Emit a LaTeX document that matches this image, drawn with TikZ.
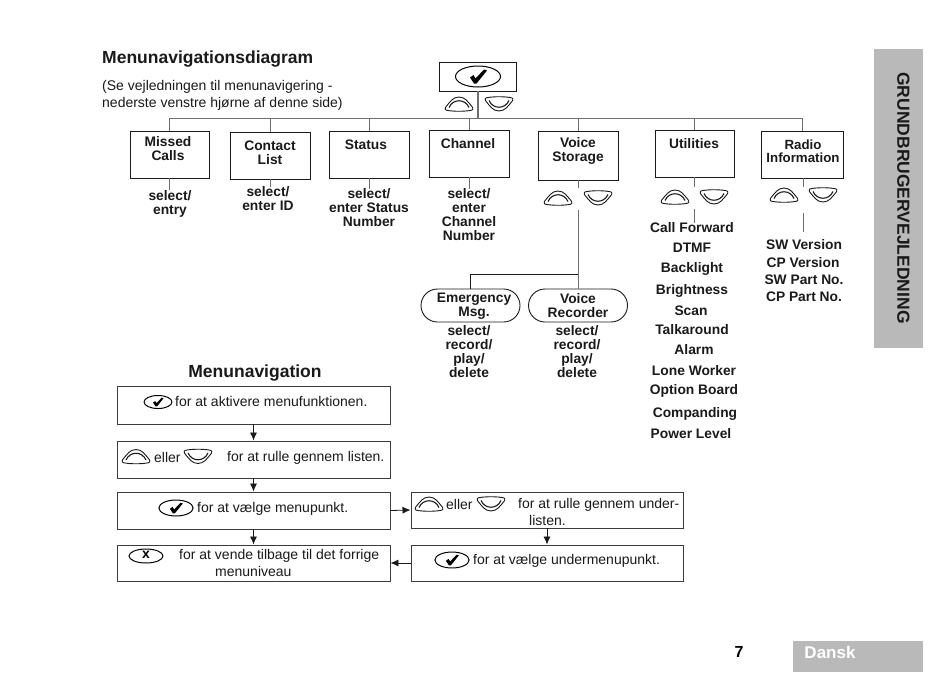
\documentclass[tikz,border=0pt]{standalone}
\usepackage{fontspec}
\setmainfont{Liberation Sans}
\usetikzlibrary{arrows.meta}
\definecolor{tabgray}{HTML}{B9B9B9}
\definecolor{inkc}{HTML}{1A1A1A}
\definecolor{stemc}{HTML}{6E6E6E}
\tikzset{
  x=1pt,y=-1pt,
  menubox/.style={draw=inkc,line width=0.9pt,fill=white,rectangle,inner sep=0pt},
  flowbox/.style={draw=inkc!85,line width=0.95pt,fill=white,rectangle,inner sep=0pt},
  pillbox/.style={draw=inkc,line width=0.9pt,rectangle,rounded corners=16.5pt,inner sep=0pt,minimum width=99pt,minimum height=33pt},
  lbl/.style={font=\bfseries\fontsize{13.8}{14}\selectfont,align=center,text=inkc,inner sep=0pt,yshift=-0.8pt},
  lblsmall/.style={font=\bfseries\fontsize{13.3}{13}\selectfont,align=center,text=inkc,inner sep=0pt,yshift=-0.8pt},
  title/.style={font=\bfseries\fontsize{17.5}{20}\selectfont,text=inkc,inner sep=0pt,yshift=-2.5pt},
  body/.style={font=\fontsize{14}{14.5}\selectfont,text=inkc,inner sep=0pt},
  flowtxt/.style={font=\fontsize{14}{14}\selectfont,text=inkc,inner sep=0pt,align=center,yshift=-0.8pt},
  stem/.style={draw=stemc,line width=0.8pt},
  darkstem/.style={draw=inkc,line width=0.9pt},
  flowarrow/.style={draw=inkc,line width=0.8pt,-{Latex[length=8pt,width=7pt]}},
  upkey/.pic={
    \draw[inkc,line width=0.9pt,line join=round] (-11,6.5) .. controls (-14.5,6.5) and (-14.5,4) .. (-12.5,2) .. controls (-9,-2) and (-6,-7) .. (0,-7) .. controls (6,-7) and (9,-2) .. (12.5,2) .. controls (14.5,4) and (14.5,6.5) .. (11,6.5) .. controls (5,7.5) and (-5,7.5) .. cycle;
    \draw[inkc,line width=1.1pt] (-10,3.5) .. controls (-6,-5.5) and (6,-5.5) .. (10,3.5);
  },
  downkey/.pic={
    \begin{scope}[yscale=-1]
    \draw[inkc,line width=0.9pt,line join=round] (-11,6.5) .. controls (-14.5,6.5) and (-14.5,4) .. (-12.5,2) .. controls (-9,-2) and (-6,-7) .. (0,-7) .. controls (6,-7) and (9,-2) .. (12.5,2) .. controls (14.5,4) and (14.5,6.5) .. (11,6.5) .. controls (5,7.5) and (-5,7.5) .. cycle;
    \draw[inkc,line width=1.1pt] (-10,3.5) .. controls (-6,-5.5) and (6,-5.5) .. (10,3.5);
    \end{scope}
  },
  okkey/.pic={
    \draw[black,line width=1pt] (0,0) ellipse [x radius=22.5,y radius=10.5];
    \fill[black] (-8,1) -- (-4.5,-1.5) -- (-2.5,2) -- (6,-7) -- (9,-6) -- (-1.5,7) -- (-4,7) -- cycle;
  },
}
\begin{document}
\begin{tikzpicture}
\useasboundingbox (0,0) rectangle (950,672);
\fill[white] (0,0) rectangle (950,672);

% side tabs
\fill[tabgray] (874,49) rectangle (923,348);
\node[rotate=-90,text=inkc,inner sep=0pt,font=\bfseries\fontsize{17.5}{18}\selectfont] (sidetxt) at (903.5,198) {GRUNDBRUGERVEJLEDNING};
\fill[tabgray] (793,641) rectangle (923,672);
\node[text=white,inner sep=0pt,font=\bfseries\fontsize{17}{18}\selectfont] (dansk) at (830,652) {Dansk};
\node[text=black,inner sep=0pt,font=\bfseries\fontsize{16}{18}\selectfont] (pageno) at (739,652) {7};

% titles
\node[title,anchor=west] (maintitle) at (102,57) {Menunavigationsdiagram};
\node[body,anchor=west] (sub1) at (102,87) {(Se vejledningen til menunavigering -};
\node[body,anchor=west] (sub2) at (102,103.5) {nederste venstre hjørne af denne side)};
\node[title] (flowtitle) at (255,371) {Menunavigation};

% top of the menu tree
\node[menubox,minimum width=77pt,minimum height=29pt] (top) at (478,76.5) {};
\pic at (478,76.5) {okkey};
\pic at (459,104) {upkey};
\pic at (499,104) {downkey};
\coordinate (busl) at (170,118);
\coordinate (busr) at (803,118);
\coordinate (busm) at (478,118);
\draw[stem] (busl) -- (busr);
\draw[stem,line width=1.2pt] (top.south) -- (busm);

% menu boxes
\node[menubox,minimum width=79pt,minimum height=47pt] (missed) at (169.5,154.5) {};
\node[menubox,minimum width=80pt,minimum height=47pt] (contact) at (270,155.5) {};
\node[menubox,minimum width=80pt,minimum height=47pt] (status) at (369,154.5) {};
\node[menubox,minimum width=80pt,minimum height=47pt] (channel) at (469,153.5) {};
\node[menubox,minimum width=80pt,minimum height=49pt] (voice) at (578,155.5) {};
\node[menubox,minimum width=79pt,minimum height=47pt] (util) at (694.5,153.5) {};
\node[menubox,minimum width=82pt,minimum height=47pt] (radio) at (802,154.5) {};

\node[lbl] (missedt) at (168,148) {Missed\\Calls};
\node[lbl] (contactt) at (270,152) {Contact\\List};
\node[lbl] (statust) at (366,144) {Status};
\node[lbl] (channelt) at (468,143) {Channel};
\node[lbl] (voicet) at (578,150) {Voice\\Storage};
\node[lbl] (utilt) at (694,143) {Utilities};
\node[lblsmall] (radiot) at (803,150) {Radio\\Information};

\foreach \n in {missed,contact,status,channel,voice,util,radio}
  \draw[stem] (\n.north |- busl) -- (\n.north);

% items below the boxes
\node[lbl] (missedi) at (170,203) {select/\\entry};
\node[lbl] (contacti) at (268,198) {select/\\enter ID};
\node[lbl] (statusi) at (369,207) {select/\\enter Status\\Number};
\node[lbl] (channeli) at (469,214) {select/\\enter\\Channel\\Number};
\draw[stem] (missed.south) -- (missedi.north -| missed.south);
\draw[stem] (contact.south) -- (contacti.north -| contact.south);
\draw[stem] (status.south) -- (statusi.north -| status.south);
\draw[stem] (channel.south) -- (channeli.north -| channel.south);

% voice storage
\pic at (558,198) {upkey};
\pic at (598,198) {downkey};
\coordinate (vgap1) at (578,188);
\coordinate (vgap2) at (578,210);
\coordinate (vjoin) at (578,274);
\coordinate (ejoin) at (470.5,274);
\draw[stem] (voice.south) -- (vgap1);
\node[pillbox] (emerg) at (470.5,305.5) {};
\node[pillbox] (vrec) at (578,305.5) {};
\draw[stem] (vgap2) -- (vrec.north);
\draw[darkstem] (vjoin) -- (ejoin) -- (emerg.north);
\node[lbl] (emergt) at (474,305) {Emergency\\Msg.};
\node[lbl] (vrect) at (578,305) {Voice\\Recorder};
\node[lbl] (emergi) at (469,351) {select/\\record/\\play/\\delete};
\node[lbl] (vreci) at (577,351) {select/\\record/\\play/\\delete};

% utilities
\pic at (675,197) {upkey};
\pic at (714,197) {downkey};
\coordinate (ugap1) at (694.5,187);
\coordinate (ugap2) at (694.5,209);
\node[lbl] (u1) at (692,227) {Call Forward};
\node[lbl] (u2) at (692,247) {DTMF};
\node[lbl] (u3) at (692,268) {Backlight};
\node[lbl] (u4) at (692,290) {Brightness};
\node[lbl] (u5) at (691,310) {Scan};
\node[lbl] (u6) at (692,329) {Talkaround};
\node[lbl] (u7) at (694,349) {Alarm};
\node[lbl] (u8) at (694,370) {Lone Worker};
\node[lbl] (u9) at (694,390) {Option Board};
\node[lbl] (u10) at (695,413) {Companding};
\node[lbl] (u11) at (691,433) {Power Level};
\draw[stem] (util.south) -- (ugap1);
\draw[stem] (ugap2) -- (u1.north -| ugap2);

% radio information
\pic at (784,195) {upkey};
\pic at (823,195) {downkey};
\coordinate (rgap1) at (803,187);
\coordinate (rgap2) at (803,213);
\coordinate (rgap3) at (803,232);
\node[lbl] (r1) at (804,244) {SW Version};
\node[lbl] (r2) at (803,262) {CP Version};
\node[lbl] (r3) at (804,279) {SW Part No.};
\node[lbl] (r4) at (804,296) {CP Part No.};
\draw[stem] (radio.south -| rgap1) -- (rgap1);
\draw[stem] (rgap2) -- (rgap3);

% flow chart
\node[flowbox,minimum width=273pt,minimum height=38pt] (f1) at (253.5,405) {};
\node[flowbox,minimum width=273pt,minimum height=37pt] (f2) at (253.5,459.5) {};
\node[flowbox,minimum width=273pt,minimum height=37pt] (f3) at (253.5,510.5) {};
\node[flowbox,minimum width=273pt,minimum height=36pt] (f4) at (253.5,563) {};
\node[flowbox,minimum width=272pt,minimum height=36pt] (g1) at (547,510) {};
\node[flowbox,minimum width=272pt,minimum height=36pt] (g2) at (547,563) {};

\pic[scale=0.62] at (158,402) {okkey};
\node[flowtxt,anchor=west] (f1t) at (175,401) {for at aktivere menufunktionen.};
\pic at (136,456.5) {upkey};
\node[flowtxt,anchor=west] (f2a) at (154,457) {eller};
\pic at (198,456.5) {downkey};
\node[flowtxt,anchor=west] (f2b) at (227,457) {for at rulle gennem listen.};
\pic[scale=0.76] at (176,508) {okkey};
\node[flowtxt,anchor=west] (f3t) at (197,508) {for at vælge menupunkt.};
\draw[black,line width=1pt] (146,556) ellipse [x radius=17,y radius=7];
\node[inner sep=0pt,font=\bfseries\fontsize{14}{14}\selectfont] (xkey) at (146,555) {x};
\node[flowtxt,anchor=west] (f4a) at (179,555) {for at vende tilbage til det forrige};
\node[flowtxt,anchor=west] (f4b) at (215,571) {menuniveau};

\pic at (429,504) {upkey};
\node[flowtxt,anchor=west] (g1a) at (446,504) {eller};
\pic at (491,504) {downkey};
\node[flowtxt,anchor=west] (g1b) at (518,504) {for at rulle gennem under-};
\node[flowtxt,anchor=west] (g1c) at (529,520) {listen.};
\pic[scale=0.76] at (452,560) {okkey};
\node[flowtxt,anchor=west] (g2t) at (473,560) {for at vælge undermenupunkt.};

\draw[flowarrow] (f1.south) -- (f2.north);
\draw[flowarrow] (f2.south) -- (f3.north);
\draw[flowarrow] (f3.south) -- (f4.north);
\draw[flowarrow] (f3.east) -- (g1.west);
\draw[flowarrow] (g1.south) -- (g2.north);
\draw[flowarrow] (g2.west) -- (f4.east);
\end{tikzpicture}
\end{document}
